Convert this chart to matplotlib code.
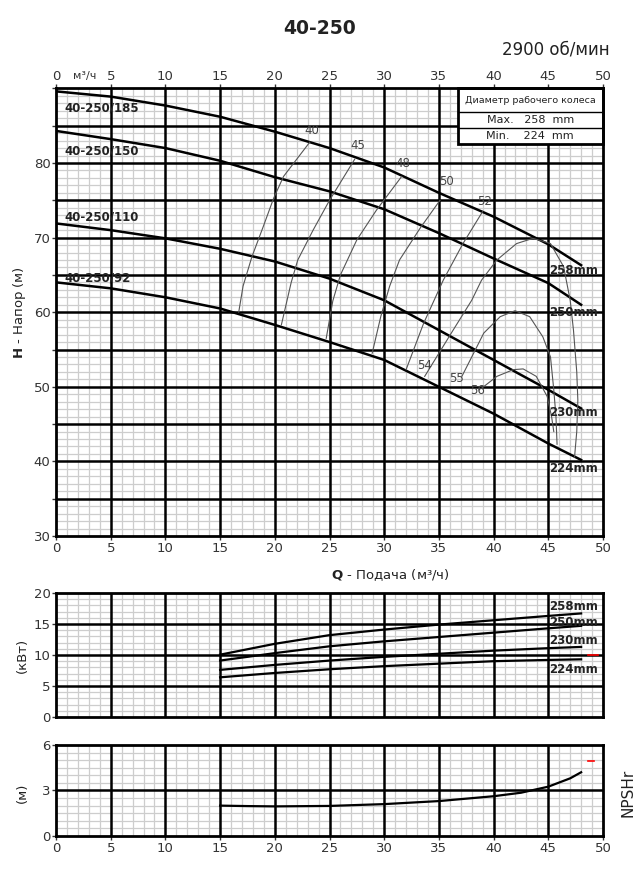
import matplotlib.pyplot as plt
import numpy as np

# --- data ---
q_head = [0, 5, 10, 15, 20, 25, 30, 35, 40, 45, 48]
h_258 = [89.6, 88.9, 87.7, 86.2, 84.2, 82.0, 79.4, 76.0, 72.8, 69.1, 66.3]
h_250 = [84.3, 83.2, 82.0, 80.3, 78.1, 76.2, 73.8, 70.6, 67.2, 63.9, 61.0]
h_230 = [71.9, 71.0, 69.9, 68.5, 66.8, 64.5, 61.6, 57.6, 53.6, 49.6, 47.1]
h_224 = [64.0, 63.2, 62.0, 60.5, 58.3, 56.0, 53.6, 50.0, 46.4, 42.4, 40.2]
head_names = ["40-250/185", "40-250/150", "40-250/110", "40-250/92"]
head_name_h = [87.4, 81.6, 72.7, 64.6]
diam_labels = ["258mm", "250mm", "230mm", "224mm"]
diam_label_h = [65.6, 59.9, 46.5, 39.0]

# iso-efficiency lines (Q, H)
eff_40 = [(23.2, 82.8), (20.8, 78.2), (19.9, 75.3), (18.95, 71.5), (17.9, 67.4), (17.1, 63.5), (16.7, 60.0)]
eff_45 = [(27.3, 80.5), (25.0, 75.0), (23.5, 71.0), (22.1, 67.0), (21.5, 64.0), (20.6, 58.3)]
eff_48 = [(31.6, 78.2), (29.3, 73.7), (27.5, 69.7), (26.0, 65.0), (25.3, 61.5), (24.7, 56.5)]
eff_50 = [(35.1, 75.0), (33.3, 71.3), (31.4, 67.0), (30.5, 63.5), (29.7, 59.5), (28.9, 54.5)]
eff_52 = [(39.0, 73.5), (37.2, 69.2), (35.4, 64.3), (33.6, 58.5), (32.0, 52.3)]
eff_54 = [(33.7, 51.4), (35.0, 54.5), (36.3, 57.6), (38.0, 61.6), (38.9, 64.3), (40.3, 67.0),
          (42.1, 69.2), (43.6, 69.9), (45.2, 69.2), (46.4, 66.1), (47.0, 61.6), (47.3, 57.6),
          (47.6, 52.0), (47.7, 48.2), (47.6, 44.0), (47.4, 40.6)]
eff_55 = [(37.1, 51.4), (38.0, 54.0), (39.1, 57.2), (40.6, 59.4), (41.96, 60.2), (43.3, 59.4),
          (44.5, 56.7), (45.2, 54.0), (45.5, 49.6), (45.7, 46.0), (45.8, 42.3)]
eff_56 = [(38.9, 49.8), (40.3, 51.4), (41.8, 52.3), (42.7, 52.4), (43.9, 51.4), (44.9, 48.7),
          (45.3, 46.0), (45.5, 44.0)]
eff_lines = [eff_40, eff_45, eff_48, eff_50, eff_52, eff_54, eff_55, eff_56]
eff_labels = ["40", "45", "48", "50", "52", "54", "55", "56"]
eff_label_pos = [(23.4, 84.4), (27.6, 82.3), (31.7, 79.9), (35.7, 77.5), (39.2, 74.8),
                 (33.7, 52.9), (36.6, 51.1), (38.5, 49.5)]

q_pow = [15, 20, 25, 30, 35, 40, 45, 48]
p_258 = [10.05, 11.8, 13.2, 14.1, 14.9, 15.6, 16.3, 16.7]
p_250 = [9.1, 10.3, 11.4, 12.2, 12.9, 13.6, 14.3, 14.7]
p_230 = [7.6, 8.4, 9.1, 9.7, 10.2, 10.7, 11.1, 11.3]
p_224 = [6.4, 7.1, 7.7, 8.2, 8.6, 9.0, 9.2, 9.3]
pow_label_p = [17.8, 15.2, 12.4, 7.6]

q_npsh = [15, 17.5, 20, 25, 30, 35, 40, 42.5, 45, 47, 48]
npsh = [2.0, 1.97, 1.95, 1.98, 2.1, 2.3, 2.62, 2.85, 3.25, 3.8, 4.2]

grid_minor = "#cdcdcd"
txt = "#333333"

fig = plt.figure(figsize=(6.4, 8.76), dpi=100)


def style_grid(ax, ymaj, ymin):
    ax.set_xlim(0, 50)
    ax.set_xticks(np.arange(0, 51, 5))
    ax.set_xticks(np.arange(0, 51, 1), minor=True)
    ax.set_yticks(ymaj)
    ax.set_yticks(ymin, minor=True)
    ax.grid(which="minor", color=grid_minor, lw=0.9, zorder=1)
    # major lines drawn by hand so the light grid does not cut through them
    for x in np.arange(5, 50, 5):
        ax.axvline(x, color="black", lw=1.8, zorder=2)
    for y in ymaj[1:-1]:
        ax.axhline(y, color="black", lw=1.8, zorder=2)
    ax.tick_params(which="minor", length=0)
    ax.tick_params(which="major", length=3, width=1, colors=txt, labelsize=9.5, pad=1)
    for s in ax.spines.values():
        s.set_linewidth(2)
        s.set_zorder(6)


# --- head chart ---
ax = fig.add_axes([0.0875, 0.3881, 0.8547, 0.511])
ax.set_ylim(30, 90)
style_grid(ax, np.arange(30, 91, 5), np.arange(30, 91, 1))
ax.set_yticklabels([str(v) if v % 10 == 0 and v < 90 else "" for v in range(30, 91, 5)])
ax.tick_params(top=True, labeltop=True)
ax.text(2.6, 91.7, "м³/ч", fontsize=8, color=txt, ha="center", va="center", clip_on=False)

for h in [h_258, h_250, h_230, h_224]:
    ax.plot(q_head, h, color="black", lw=1.8, zorder=3)
for name, y in zip(head_names, head_name_h):
    ax.text(0.8, y, name, fontsize=8.5, fontweight="bold", color="#222", va="center", zorder=4)
for name, y in zip(diam_labels, diam_label_h):
    ax.text(45.1, y, name, fontsize=8.5, fontweight="bold", color="#222", va="center", zorder=4)

for pts, lab, pos in zip(eff_lines, eff_labels, eff_label_pos):
    arr = np.array(pts)
    ax.plot(arr[:, 0], arr[:, 1], color="#555555", lw=0.8, zorder=3)
    ax.text(pos[0], pos[1], lab, fontsize=8.5, color="#444", ha="center", va="center", zorder=4)

# impeller diameter box
ax.add_patch(plt.Rectangle((36.7, 82.6), 13.3, 7.4, facecolor="white", edgecolor="black",
                           lw=2, zorder=5, clip_on=False))
ax.plot([36.7, 50], [86.8, 86.8], color="black", lw=1, zorder=6)
ax.plot([36.7, 50], [84.7, 84.7], color="black", lw=1, zorder=6)
ax.text(43.35, 88.4, "Диаметр рабочего колеса", fontsize=6.8, ha="center", va="center", color="#222", zorder=7)
ax.text(43.35, 85.75, "Max.   258  mm", fontsize=8, ha="center", va="center", color="#222", zorder=7)
ax.text(43.35, 83.65, "Min.    224  mm", fontsize=8, ha="center", va="center", color="#222", zorder=7)

fig.text(0.5, 1 - 28 / 876, "40-250", fontsize=13.5, fontweight="bold", ha="center", va="center", color="#222")
fig.text(610 / 640, 1 - 49 / 876, "2900 об/мин", fontsize=12, ha="right", va="center", color="#222")
fig.text(20 / 640, 1 - 313 / 876, r"$\bf{H}$ - Напор (м)", fontsize=9.5, rotation=90,
         ha="center", va="center", color="#222")
fig.text(390 / 640, 1 - 575 / 876, r"$\bf{Q}$ - Подача (м³/ч)", fontsize=9.5,
         ha="center", va="center", color="#222")

# --- power chart ---
ax2 = fig.add_axes([0.0875, 0.1815, 0.8547, 0.1416])
ax2.set_ylim(0, 20)
style_grid(ax2, np.arange(0, 21, 5), np.arange(0, 21, 1))
ax2.tick_params(labelbottom=False, bottom=False)
for p in [p_258, p_250, p_230, p_224]:
    ax2.plot(q_pow, p, color="black", lw=1.6, zorder=3)
for name, y in zip(diam_labels, pow_label_p):
    ax2.text(45.1, y, name, fontsize=8.5, fontweight="bold", color="#222", va="center", zorder=4)
ax2.plot([48.6, 49.5], [10, 10], color="red", lw=1.2, zorder=4)
fig.text(22 / 640, 1 - 655 / 876, "(кВт)", fontsize=9.5, rotation=90, ha="center", va="center", color="#222")

# --- NPSH chart ---
ax3 = fig.add_axes([0.0875, 0.0457, 0.8547, 0.1039])
ax3.set_ylim(0, 6)
style_grid(ax3, [0, 3, 6], np.arange(0, 6.01, 0.5))
ax3.plot(q_npsh, npsh, color="black", lw=1.6, zorder=3)
ax3.plot([48.6, 49.2], [4.95, 4.95], color="red", lw=1.2, zorder=4, clip_on=False)
fig.text(22 / 640, 1 - 793 / 876, "(м)", fontsize=9.5, rotation=90, ha="center", va="center", color="#222")
fig.text(628 / 640, 1 - 793 / 876, "NPSHr", fontsize=11, rotation=90, ha="center", va="center", color="#222")

fig.savefig("out.png", dpi=100, facecolor="white")
